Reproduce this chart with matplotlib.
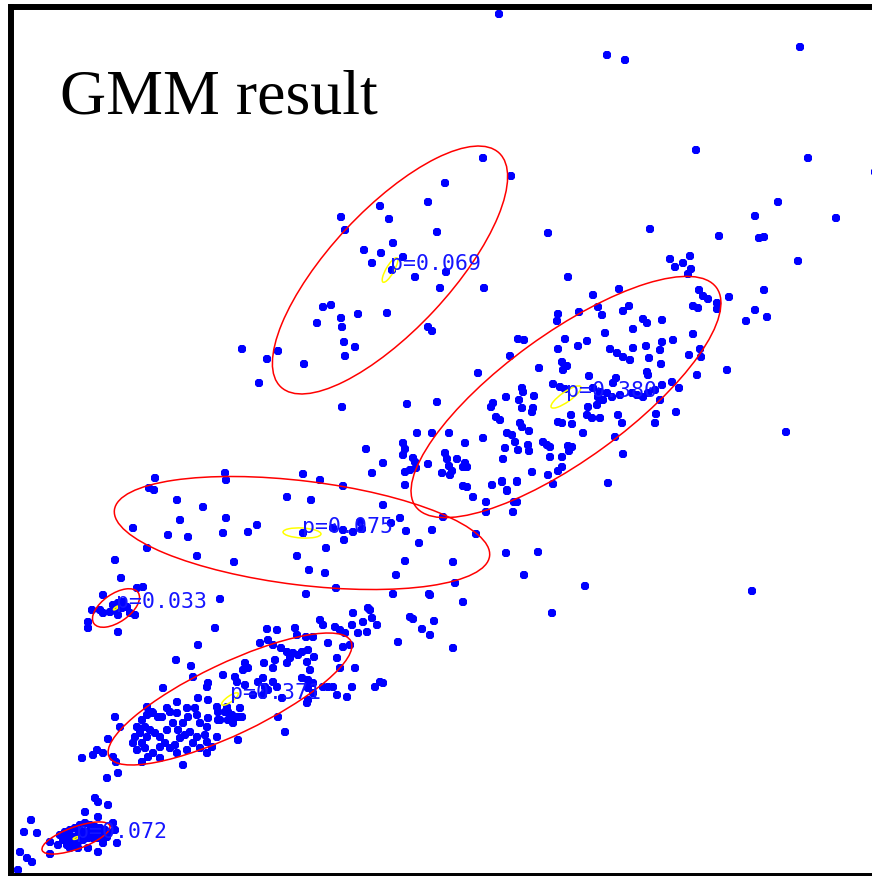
import matplotlib
matplotlib.use("Agg")
import matplotlib.pyplot as plt
from matplotlib.patches import Ellipse

# ---- observations (screen-style coordinates: x to the right, y downward) ----
pts_top = [
    (499, 14), (607, 55), (625, 60), (800, 47), (696, 150), (808, 158), (483, 158),
    (511, 176), (445, 183), (778, 202), (755, 216), (836, 218), (719, 236), (759, 238),
    (764, 237), (650, 229), (548, 233), (437, 232), (798, 261), (875, 172),
    (428, 202), (380, 206), (341, 217), (389, 219), (345, 230),
    (393, 243), (364, 250), (381, 253), (403, 257), (372, 263), (392, 270), (415, 277),
    (446, 272), (440, 288), (484, 288), (568, 277), (619, 289), (593, 295),
    (323, 307), (331, 305), (358, 314), (387, 313), (317, 323), (341, 318), (342, 327),
    (428, 327), (432, 331), (344, 342), (355, 347), (345, 356), (242, 349), (267, 359),
    (278, 351), (304, 364), (259, 383), (518, 339), (524, 340), (510, 356), (478, 373),
    (522, 388), (342, 407), (407, 404), (437, 402), (493, 403), (491, 407), (506, 397),
    (519, 400), (522, 408),
]

pts_upper = [
    (670, 259), (675, 267), (683, 263), (690, 256), (691, 269), (688, 274),
    (699, 290), (703, 296), (708, 299), (729, 297), (764, 290), (693, 306), (698, 308),
    (717, 303), (717, 309), (755, 310), (767, 317), (746, 321), (727, 370), (786, 432),
    (598, 307), (602, 315), (579, 312), (558, 314), (557, 321), (623, 311), (629, 306),
    (643, 319), (647, 323), (662, 320), (693, 334), (605, 333), (633, 329),
    (662, 342), (660, 350), (673, 340), (646, 346), (633, 348), (610, 349), (617, 353),
    (623, 357), (630, 360), (587, 341), (578, 346), (565, 339), (558, 349), (649, 358),
    (661, 364), (689, 355), (700, 349), (701, 357),
    (562, 362), (567, 366), (563, 370), (539, 368), (589, 376), (616, 378), (613, 383),
    (647, 372), (648, 375), (672, 382), (697, 375), (662, 385), (679, 388),
    (553, 384), (560, 387), (565, 389), (523, 392), (534, 396), (532, 412),
    (593, 388), (600, 392), (607, 393), (612, 397), (598, 397), (603, 400), (597, 405),
    (588, 407), (620, 395), (632, 393), (637, 395), (643, 397), (648, 393), (655, 390),
    (660, 400), (656, 414), (655, 423), (676, 412),
    (533, 408), (496, 417), (500, 420), (520, 423), (522, 427), (529, 431), (558, 422),
    (562, 423), (571, 415), (572, 424), (587, 415), (592, 418), (600, 418), (618, 415),
    (622, 423), (583, 433), (507, 433), (512, 435), (515, 442), (483, 438), (465, 443),
    (505, 448), (518, 450), (528, 445), (529, 451), (543, 442), (547, 445), (550, 447),
    (550, 457), (568, 446), (572, 447), (569, 451), (562, 457), (615, 437), (623, 454),
    (608, 483),
    (503, 459), (532, 472), (562, 467), (558, 471), (548, 475), (553, 484), (502, 481),
    (507, 490), (492, 485), (517, 481), (517, 502), (513, 512), (486, 502), (486, 512),
    (473, 497), (463, 486), (467, 487), (457, 459), (465, 463), (463, 467), (467, 467),
    (445, 453), (447, 459), (449, 466), (452, 471), (442, 473), (428, 464), (417, 433),
    (432, 433), (449, 433), (403, 443), (405, 449), (403, 455), (413, 458), (415, 462),
    (416, 468), (405, 472), (410, 470), (405, 485), (383, 463), (443, 517), (383, 505),
    (391, 523), (366, 449), (372, 473), (450, 475), (502, 482), (517, 482), (507, 491),
    (514, 502), (476, 534), (506, 553), (453, 562), (455, 583), (430, 595), (463, 602),
    (410, 617), (413, 619), (434, 621), (422, 629), (430, 635),
    (538, 552), (524, 575), (585, 586), (752, 591), (552, 613), (453, 648),
]

pts_mid = [
    (155, 478), (149, 488), (154, 490), (225, 473), (226, 480), (287, 497), (311, 500),
    (303, 474), (320, 480), (343, 486),
    (177, 500), (203, 507), (180, 520), (226, 518), (257, 525), (248, 532), (223, 533),
    (168, 535), (188, 537), (133, 528), (147, 548), (303, 533), (343, 530), (353, 532),
    (360, 522), (362, 529), (333, 528), (400, 518), (406, 531), (432, 530), (344, 540),
    (326, 548), (419, 543), (297, 556), (197, 556), (234, 562), (115, 560), (405, 561),
    (396, 575), (309, 570), (325, 573), (121, 578), (336, 588), (306, 594), (393, 594),
    (429, 594), (143, 587), (137, 588), (220, 599),
]

pts_small = [
    (103, 595), (92, 610), (113, 605), (118, 603), (123, 602), (127, 607), (122, 608),
    (117, 612), (110, 612), (103, 613), (100, 610), (130, 613), (135, 615), (118, 615),
    (88, 622), (88, 628), (118, 632),
]

pts_low = [
    (198, 645), (176, 660), (191, 666), (193, 677), (163, 688), (115, 717), (120, 727),
    (82, 758), (93, 755), (97, 750), (103, 753), (108, 739), (113, 757), (116, 762),
    (118, 773), (107, 778), (207, 753), (183, 765), (238, 740),
    (137, 727), (142, 720), (147, 715), (153, 713), (158, 717), (145, 727), (150, 730),
    (140, 733), (135, 737), (133, 743), (142, 743), (147, 737), (155, 733), (160, 737),
    (167, 730), (137, 750), (145, 748), (153, 753), (160, 747), (165, 743), (170, 748),
    (148, 757), (160, 758), (142, 762), (177, 753), (175, 745), (180, 738), (185, 735),
    (190, 732), (178, 730), (173, 723), (183, 723), (188, 717), (177, 713), (170, 712),
    (167, 708), (195, 708), (197, 715), (200, 723), (207, 727), (205, 735), (197, 737),
    (193, 743), (187, 750), (200, 748), (207, 742), (212, 747), (217, 737), (220, 720),
    (225, 712), (228, 720), (233, 723), (238, 717), (208, 718), (218, 712), (187, 708),
    (177, 702), (162, 717), (152, 712), (147, 707), (198, 698),
    (215, 628), (267, 629), (277, 630), (295, 628), (297, 635), (313, 637), (320, 620),
    (323, 625), (335, 627), (340, 630), (345, 633), (352, 625), (353, 613), (358, 633),
    (363, 622), (367, 632), (370, 610), (372, 618), (377, 625), (368, 608), (398, 642),
    (260, 643), (268, 640), (273, 645), (281, 648), (287, 652), (293, 653), (298, 655),
    (302, 652), (290, 658), (308, 650), (306, 637), (314, 657), (328, 643), (337, 658),
    (343, 647), (350, 645), (245, 663), (248, 668), (243, 670), (264, 663), (275, 660),
    (273, 668), (287, 663), (307, 662), (310, 670), (302, 678), (308, 680), (313, 683),
    (340, 668), (355, 668), (258, 682), (263, 678), (265, 687), (268, 690), (273, 682),
    (277, 687), (235, 677), (237, 682), (223, 675), (208, 683), (207, 687), (245, 685),
    (253, 695), (263, 695), (240, 708), (232, 715), (237, 717), (208, 700), (227, 707),
    (228, 712), (217, 707), (218, 720), (242, 717), (278, 717), (285, 732), (333, 687),
    (337, 695), (328, 687), (323, 687), (308, 688), (313, 693), (308, 700), (307, 703),
    (282, 698), (347, 697), (352, 687), (375, 687), (380, 682), (383, 683),
]

pts_bottom = [
    (95, 798), (98, 802), (108, 805), (85, 812), (98, 817), (31, 820), (24, 832),
    (37, 833), (113, 823), (115, 830), (117, 843), (103, 843), (98, 852), (50, 842),
    (50, 854), (20, 852), (27, 858), (32, 862), (18, 870),
    (60, 835), (65, 832), (70, 830), (75, 828), (80, 825), (85, 823), (90, 825),
    (95, 827), (100, 828), (105, 830), (108, 832), (63, 840), (68, 838), (73, 837),
    (78, 835), (83, 832), (88, 832), (93, 832), (98, 833), (103, 835), (67, 845),
    (73, 843), (78, 842), (83, 840), (88, 838), (93, 838), (98, 838), (78, 848),
    (88, 848), (70, 848), (58, 845), (107, 837),
]

# ---- fitted mixture components ----
comp_weight = [0.069, 0.380, 0.075, 0.033, 0.371, 0.072]
comp_cx = [390, 566, 302, 116, 230, 76]
comp_cy = [270, 397, 533, 608, 699, 838]
comp_w = [320, 372, 378, 54, 268, 72]          # 2-sigma ellipse axes
comp_h = [120, 126, 104, 28, 71, 22]
comp_angle = [-47, -36, 7, -35, -25.5, -20]
mean_w = [28, 36, 38, 6, 20, 6]                # uncertainty of the mean
mean_h = [8, 10, 10, 2, 6, 2]
mean_angle = [-60, -35, 3, -35, -35, -20]

# ---- figure ----
W, H = 872, 876
fig = plt.figure(figsize=(W / 100, H / 100), dpi=100)
fig.patch.set_facecolor("white")
ax = fig.add_axes([11 / W, 0, 1, 1 - 7 / H])
ax.set_xlim(11, 11 + W)
ax.set_ylim(H, 7)
ax.set_xticks([])
ax.set_yticks([])
for side in ("left", "top", "bottom"):
    ax.spines[side].set_linewidth(4.3)
    ax.spines[side].set_color("black")
ax.spines["right"].set_visible(False)

all_pts = pts_top + pts_upper + pts_mid + pts_small + pts_low + pts_bottom
xs = [p[0] for p in all_pts]
ys = [p[1] for p in all_pts]
ax.plot(xs, ys, linestyle="none", marker="8", markersize=6.3,
        markerfacecolor="#0000ff", markeredgewidth=0, zorder=2)

for i in range(len(comp_weight)):
    ax.add_patch(Ellipse((comp_cx[i], comp_cy[i]), comp_w[i], comp_h[i],
                         angle=comp_angle[i], fill=False, edgecolor="#ff0000",
                         linewidth=1.1, zorder=3))
    ax.add_patch(Ellipse((comp_cx[i], comp_cy[i]), mean_w[i], mean_h[i],
                         angle=mean_angle[i], fill=False, edgecolor="#ffff00",
                         linewidth=1.1, zorder=3))
    ax.text(comp_cx[i], comp_cy[i] - 6, f"p={comp_weight[i]:.3f}",
            family="DejaVu Sans Mono", fontsize=15.5, color="#1515ff",
            ha="left", va="center", zorder=4)

ax.text(60, 113, "GMM result", family="Liberation Serif", fontsize=46,
        color="black", ha="left", va="baseline", zorder=5)

fig.savefig("out.png", dpi=100)
